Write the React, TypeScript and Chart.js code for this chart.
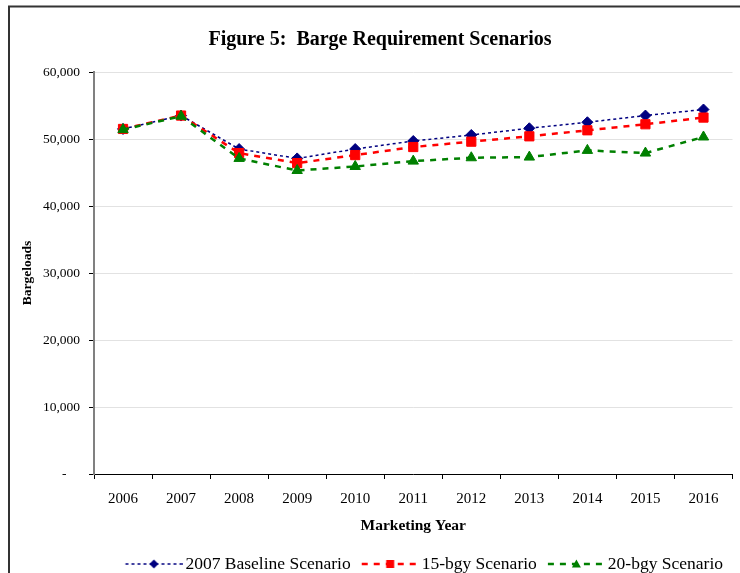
import React, { useEffect, useRef } from 'react';
import { Chart, registerables } from 'chart.js';

Chart.register(...registerables);

// ---- data ----
const years = ['2006', '2007', '2008', '2009', '2010', '2011', '2012', '2013', '2014', '2015', '2016'];
const baseline = [51500, 53500, 48500, 47100, 48500, 49700, 50600, 51600, 52500, 53500, 54400];
const bgy15 = [51500, 53500, 47900, 46400, 47600, 48800, 49600, 50400, 51300, 52200, 53200];
const bgy20 = [51400, 53400, 47100, 45300, 45900, 46700, 47200, 47300, 48300, 47900, 50300];
const seriesNames = ['2007 Baseline Scenario', '15-bgy Scenario', '20-bgy Scenario'];
const yMin = 0;
const yMax = 60000;
const yStep = 10000;
const titleText = 'Figure 5:  Barge Requirement Scenarios';
const xTitle = 'Marketing Year';
const yTitle = 'Bargeloads';

const FONT = '"Liberation Serif", "Times New Roman", Times, serif';
const NAVY = '#000080';
const RED = '#ff0000';
const GREEN = '#008000';

function makeIcon(color: string, dash: number[], lw: number, shape: string, r: number) {
  const c = document.createElement('canvas');
  c.width = 60;
  c.height = 16;
  const ctx = c.getContext('2d')!;
  const cy = 8;
  const x0 = 2.9;
  const x1 = 59.9;
  ctx.strokeStyle = color;
  ctx.lineWidth = lw;
  ctx.setLineDash(dash);
  ctx.beginPath();
  ctx.moveTo(x0, cy);
  ctx.lineTo(x1, cy);
  ctx.stroke();
  ctx.setLineDash([]);
  ctx.fillStyle = color;
  const cx = (x0 + x1) / 2;
  ctx.beginPath();
  if (shape === 'diamond') {
    ctx.moveTo(cx, cy - r);
    ctx.lineTo(cx + r, cy);
    ctx.lineTo(cx, cy + r);
    ctx.lineTo(cx - r, cy);
  } else if (shape === 'square') {
    ctx.rect(cx - r, cy - r, 2 * r, 2 * r);
  } else {
    ctx.moveTo(cx, cy - r);
    ctx.lineTo(cx + r, cy + r * 0.75);
    ctx.lineTo(cx - r, cy + r * 0.75);
  }
  ctx.closePath();
  ctx.fill();
  return c;
}

const framePlugin = {
  id: 'frame',
  beforeDraw(chart: any) {
    const ctx = chart.ctx;
    ctx.save();
    ctx.fillStyle = '#ffffff';
    ctx.fillRect(0, 0, chart.width, chart.height);
    ctx.strokeStyle = '#333333';
    ctx.lineWidth = 2;
    ctx.beginPath();
    ctx.moveTo(9, chart.height + 5);
    ctx.lineTo(9, 6.5);
    ctx.lineTo(chart.width + 5, 6.5);
    ctx.stroke();
    ctx.restore();
  },
};

export default function App() {
  const ref = useRef<HTMLCanvasElement | null>(null);

  useEffect(() => {
    if (!ref.current) return;
    const icons = [
      makeIcon(NAVY, [3, 3], 1.5, 'diamond', 4.5),
      makeIcon(RED, [6, 6], 2.5, 'square', 4),
      makeIcon(GREEN, [6, 6], 2.5, 'triangle', 4.5),
    ];
    const chart = new Chart(ref.current, {
      type: 'line',
      data: {
        labels: years,
        datasets: [
          {
            label: seriesNames[0],
            data: baseline,
            borderColor: NAVY,
            backgroundColor: NAVY,
            borderWidth: 1.5,
            borderDash: [3, 3],
            pointStyle: 'rectRot',
            pointRadius: 5.5,
            pointBorderWidth: 1,
            order: 3,
          },
          {
            label: seriesNames[1],
            data: bgy15,
            borderColor: RED,
            backgroundColor: RED,
            borderWidth: 2.5,
            borderDash: [6, 6],
            pointStyle: 'rect',
            pointRadius: 6.5,
            pointBorderWidth: 1,
            order: 2,
          },
          {
            label: seriesNames[2],
            data: bgy20,
            borderColor: GREEN,
            backgroundColor: GREEN,
            borderWidth: 2.5,
            borderDash: [6, 6],
            pointStyle: 'triangle',
            pointRadius: 6,
            pointBorderWidth: 1,
            order: 1,
          },
        ],
      },
      options: {
        responsive: false,
        animation: false,
        layout: { padding: { left: 23, right: 3, top: 0, bottom: -9.75 } },
        plugins: {
          tooltip: { enabled: false },
          title: {
            display: true,
            text: titleText,
            color: '#000',
            font: { family: FONT, size: 20, weight: 'bold' },
            padding: { top: 28, bottom: 20 },
          },
          legend: {
            display: true,
            position: 'bottom',
            align: 'end',
            labels: {
              color: '#000',
              font: { family: FONT, size: 17.5 },
              usePointStyle: true,
              pointStyleWidth: 48.25,
              padding: 14,
              generateLabels: () =>
                seriesNames.map((name, i) => ({
                  text: name,
                  pointStyle: icons[i] as any,
                  fillStyle: 'transparent',
                  strokeStyle: 'transparent',
                  lineWidth: 0,
                  hidden: false,
                  datasetIndex: i,
                  fontColor: '#000',
                })),
            },
          },
        },
        scales: {
          x: {
            type: 'category',
            offset: true,
            grid: {
              display: true,
              drawOnChartArea: false,
              offset: true,
              tickLength: 5,
              tickColor: '#000',
            },
            border: { color: '#000', width: 1 },
            ticks: {
              color: '#000',
              font: { family: FONT, size: 15 },
              padding: 11,
              maxRotation: 0,
              autoSkip: false,
            },
            title: {
              display: true,
              text: xTitle,
              color: '#000',
              font: { family: FONT, size: 15.5, weight: 'bold' },
              padding: { top: 0, bottom: 5.65 },
            },
            afterFit(s: any) {
              s.height = 67.25;
            },
          },
          y: {
            min: yMin,
            max: yMax,
            grid: { color: '#e2e2e2', tickColor: '#000', tickLength: 5, lineWidth: 1 },
            border: { color: '#808080', width: 2 },
            ticks: {
              stepSize: yStep,
              color: '#000',
              font: { family: FONT, size: 13.5 },
              padding: 9,
              callback: (v: any) => (Number(v) === 0 ? '-    ' : Number(v).toLocaleString('en-US')),
            },
            title: {
              display: true,
              text: yTitle,
              color: '#000',
              font: { family: FONT, size: 13.5, weight: 'bold' },
              padding: { top: -4, bottom: 0 },
            },
            afterFit(s: any) {
              s.width = 71;
            },
          },
        },
      },
      plugins: [framePlugin],
    });
    return () => chart.destroy();
  }, []);

  return (
    <div style={{ position: 'absolute', left: 0, top: 0, width: 740, height: 573, overflow: 'hidden' }}>
      <canvas ref={ref} width={740} height={573} style={{ display: 'block' }} />
    </div>
  );
}
